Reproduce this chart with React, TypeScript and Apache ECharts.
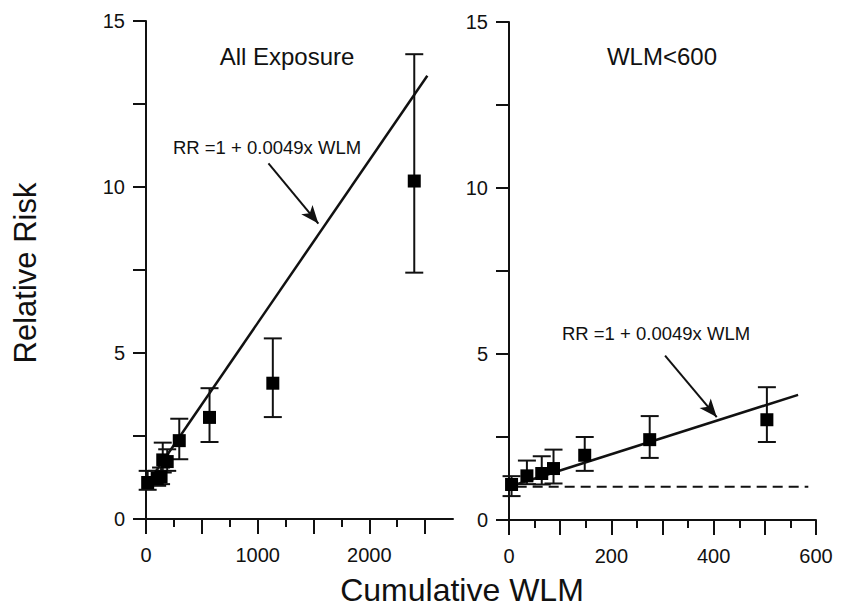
import React, { useEffect, useRef } from 'react';
import * as echarts from 'echarts';

// ---- Data ----
// Panel 1: All Exposure
const allX = [15, 100, 135, 150, 190, 298, 569, 1136, 2403];
const allRR = [1.1, 1.22, 1.27, 1.78, 1.73, 2.36, 3.06, 4.09, 10.18];
const allLo = [0.88, 1.0, 1.05, 1.4, 1.45, 1.8, 2.32, 3.07, 7.42];
const allHi = [1.45, 1.45, 1.55, 2.3, 2.1, 3.02, 3.94, 5.44, 14.0];
const allFit = [[0, 1.0], [2520, 13.35]];
const allArrow = [[1097, 10.71], [1544, 8.9]];

// Panel 2: WLM<600
const lowX = [5, 35, 64, 87, 148, 275, 504];
const lowRR = [1.07, 1.33, 1.4, 1.55, 1.95, 2.42, 3.02];
const lowLo = [0.72, 1.08, 1.07, 1.1, 1.48, 1.87, 2.35];
const lowHi = [1.32, 1.79, 1.92, 2.12, 2.5, 3.13, 4.0];
const lowFit = [[0, 1.0], [565, 3.77]];
const lowBaseline = [[15, 1.0], [585, 1.0]];
const lowArrow = [[305, 4.95], [406, 3.1]];

// Axis ticks / labels
const allMajorTicks = [0, 500, 1000, 1500, 2000, 2500];
const allMinorTicks = [250, 750, 1250, 1750, 2250];
const allTickLabels = [0, 1000, 2000];
const lowMajorTicks = [0, 100, 200, 300, 400, 500, 600];
const lowMinorTicks = [50, 150, 250, 350, 450, 550];
const lowTickLabels = [0, 200, 400, 600];

const FONT = '"Liberation Sans", Arial, sans-serif';
const INK = '#111';

function errorBars(xs: number[], lo: number[], hi: number[], xi: number, yi: number) {
  return {
    type: 'custom',
    xAxisIndex: xi,
    yAxisIndex: yi,
    z: 2,
    encode: { x: 0, y: [1, 2] },
    data: xs.map((x, i) => [x, lo[i], hi[i]]),
    renderItem: (params: any, api: any) => {
      const x = api.value(0);
      const a = api.coord([x, api.value(1)]);
      const b = api.coord([x, api.value(2)]);
      const w = 9;
      const style = { stroke: INK, lineWidth: 2 };
      return {
        type: 'group',
        children: [
          { type: 'line', shape: { x1: a[0], y1: a[1], x2: b[0], y2: b[1] }, style },
          { type: 'line', shape: { x1: a[0] - w, y1: a[1], x2: a[0] + w, y2: a[1] }, style },
          { type: 'line', shape: { x1: b[0] - w, y1: b[1], x2: b[0] + w, y2: b[1] }, style },
        ],
      };
    },
  };
}

function yAxis(gridIndex: number) {
  return {
    type: 'value',
    gridIndex,
    min: 0,
    max: 15,
    interval: 2.5,
    axisLine: { show: true, lineStyle: { color: INK, width: 2 } },
    axisTick: { show: true, length: 13, lineStyle: { color: INK, width: 2 } },
    axisLabel: {
      margin: 21,
      fontSize: 20,
      fontFamily: FONT,
      color: INK,
      formatter: (v: number) => (v % 5 === 0 ? String(v) : ''),
    },
    splitLine: { show: false },
  };
}

function xAxes(gridIndex: number, max: number, major: number[], minor: number[], labels: number[]) {
  return [
    {
      type: 'value',
      gridIndex,
      position: 'bottom',
      min: 0,
      max,
      axisLine: { show: true, onZero: false, lineStyle: { color: INK, width: 2 } },
      axisTick: { show: true, length: 15, customValues: major, lineStyle: { color: INK, width: 2 } },
      axisLabel: {
        customValues: labels,
        margin: 26,
        fontSize: 20,
        fontFamily: FONT,
        color: INK,
        formatter: (v: number) => String(v),
      },
      splitLine: { show: false },
    },
    {
      type: 'value',
      gridIndex,
      position: 'bottom',
      min: 0,
      max,
      axisLine: { show: false, onZero: false },
      axisTick: { show: true, length: 8, customValues: minor, lineStyle: { color: INK, width: 2 } },
      axisLabel: { show: false },
      splitLine: { show: false },
    },
  ];
}

function fitLine(data: number[][], xi: number, yi: number, arrow: number[][]) {
  return {
    type: 'line',
    xAxisIndex: xi,
    yAxisIndex: yi,
    data,
    symbol: 'none',
    z: 1,
    lineStyle: { color: INK, width: 2.5 },
    markLine: {
      silent: true,
      symbol: ['none', 'arrow'],
      symbolSize: [11, 18],
      lineStyle: { color: INK, width: 2, type: 'solid' },
      itemStyle: { color: INK },
      label: { show: false },
      data: [[{ coord: arrow[0] }, { coord: arrow[1] }]],
    },
  };
}

function points(xs: number[], ys: number[], xi: number, yi: number) {
  return {
    type: 'scatter',
    xAxisIndex: xi,
    yAxisIndex: yi,
    data: xs.map((x, i) => [x, ys[i]]),
    symbol: 'rect',
    symbolSize: 13,
    itemStyle: { color: '#000', opacity: 1 },
    z: 3,
  };
}

export default function App() {
  const ref = useRef<HTMLDivElement>(null);
  useEffect(() => {
    if (!ref.current) return;
    const chart = echarts.init(ref.current, null, { renderer: 'svg' });
    const textStyle = (size: number) => ({ fontSize: size, fontFamily: FONT, fill: INK });
    chart.setOption({
      animation: false,
      backgroundColor: '#fff',
      grid: [
        { left: 146, top: 21, width: 307, height: 498 },
        { left: 509, top: 22, width: 307, height: 498 },
      ],
      xAxis: [
        ...xAxes(0, 2750, allMajorTicks, allMinorTicks, allTickLabels),
        ...xAxes(1, 600, lowMajorTicks, lowMinorTicks, lowTickLabels),
      ],
      yAxis: [yAxis(0), yAxis(1)],
      series: [
        errorBars(allX, allLo, allHi, 0, 0),
        fitLine(allFit, 0, 0, allArrow),
        points(allX, allRR, 0, 0),
        {
          type: 'line',
          xAxisIndex: 2,
          yAxisIndex: 1,
          data: lowBaseline,
          symbol: 'none',
          z: 1,
          lineStyle: { color: INK, width: 2, type: [10, 6] },
        },
        errorBars(lowX, lowLo, lowHi, 2, 1),
        fitLine(lowFit, 2, 1, lowArrow),
        points(lowX, lowRR, 2, 1),
      ],
      graphic: [
        { type: 'text', x: 287, y: 56, style: { ...textStyle(24), text: 'All Exposure', align: 'center', verticalAlign: 'middle' } },
        { type: 'text', x: 662, y: 56, style: { ...textStyle(24), text: 'WLM<600', align: 'center', verticalAlign: 'middle' } },
        { type: 'text', x: 267, y: 147, style: { ...textStyle(18.5), text: 'RR =1 + 0.0049x WLM', align: 'center', verticalAlign: 'middle' } },
        { type: 'text', x: 656, y: 333, style: { ...textStyle(18.5), text: 'RR =1 + 0.0049x WLM', align: 'center', verticalAlign: 'middle' } },
        { type: 'text', x: 25, y: 273, rotation: Math.PI / 2, style: { ...textStyle(31), text: 'Relative Risk', align: 'center', verticalAlign: 'middle' } },
        { type: 'text', x: 462, y: 590, style: { ...textStyle(32), text: 'Cumulative WLM', align: 'center', verticalAlign: 'middle' } },
      ],
    });
    return () => chart.dispose();
  }, []);
  return (
    <div
      ref={ref}
      style={{ position: 'absolute', left: 0, top: 0, width: 842, height: 607, background: '#fff' }}
    />
  );
}
